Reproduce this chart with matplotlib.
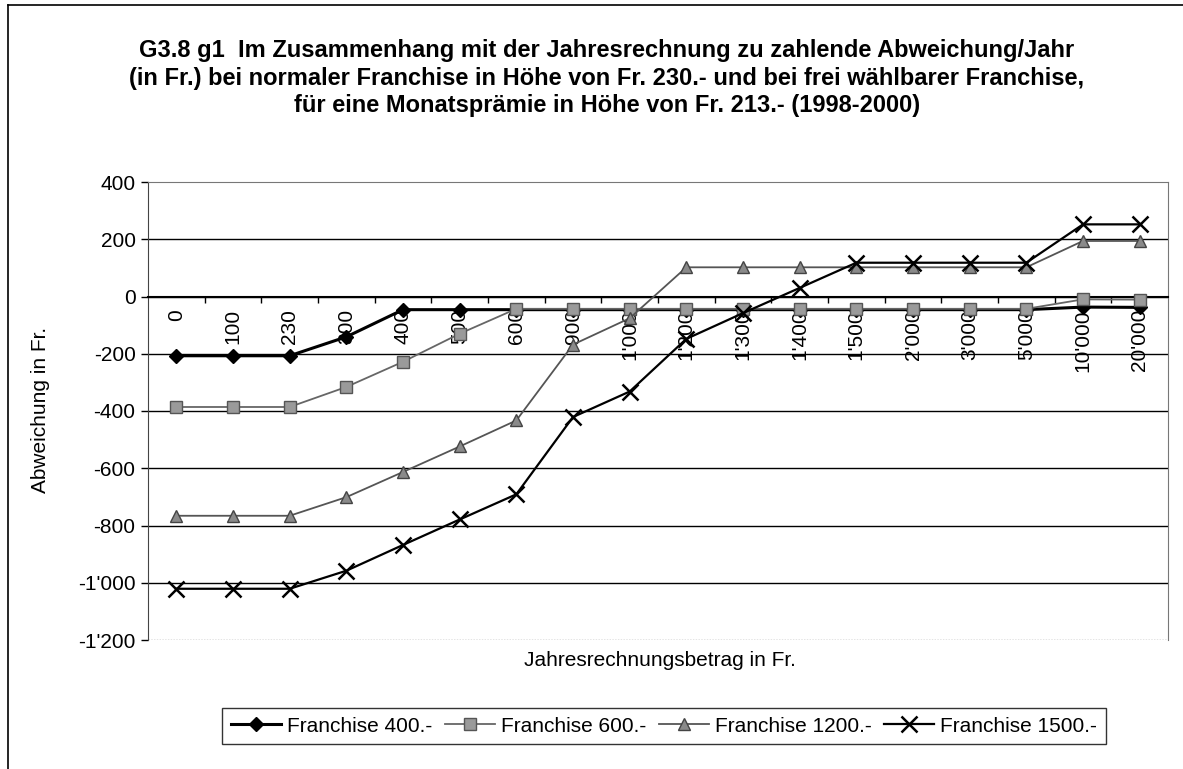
import matplotlib
matplotlib.use("Agg")
import matplotlib.pyplot as plt
from matplotlib.lines import Line2D
from matplotlib.ticker import FuncFormatter, MultipleLocator, FixedLocator

plt.rcParams["font.family"] = ["Liberation Sans", "DejaVu Sans"]

# -------------------
# Data
# -------------------
categories = ["0", "100", "230", "300", "400", "500", "600", "900", "1'000",
              "1'200", "1'300", "1'400", "1'500", "2'000", "3'000", "5'000",
              "10'000", "20'000"]

franchise_400 = [-207, -207, -207, -141, -46, -46, -46, -46, -46,
                 -46, -46, -46, -46, -46, -46, -46, -37, -38]
franchise_600 = [-386, -386, -386, -316, -228, -130, -43, -43, -43,
                 -43, -43, -43, -43, -43, -43, -43, -10, -11]
franchise_1200 = [-766, -766, -766, -701, -613, -524, -433, -168, -76,
                  102, 102, 102, 102, 102, 102, 102, 194, 194]
franchise_1500 = [-1021, -1021, -1021, -958, -868, -779, -691, -421, -332,
                  -148, -58, 30, 118, 118, 118, 118, 252, 252]

series_labels = ["Franchise 400.-", "Franchise 600.-",
                 "Franchise 1200.-", "Franchise 1500.-"]

title = ("G3.8 g1  Im Zusammenhang mit der Jahresrechnung zu zahlende Abweichung/Jahr\n"
         "(in Fr.) bei normaler Franchise in Höhe von Fr. 230.- und bei frei wählbarer Franchise,\n"
         "für eine Monatsprämie in Höhe von Fr. 213.- (1998-2000)")

W, H = 1183, 769
fig = plt.figure(figsize=(W / 100, H / 100), dpi=100)
ax = fig.add_axes([148 / W, 1 - 640 / H, (1168 - 148) / W, (640 - 182) / H])

x = list(range(len(categories)))

# grid lines
for v in range(-1000, 400, 200):
    ax.axhline(v, color="black", lw=1.0, zorder=1)
ax.axhline(-1200, color="#777777", lw=1.0, ls=(0, (1, 1)), zorder=1)

ax.plot(x, franchise_400, color="black", lw=2.2, marker="D", ms=7,
        mfc="black", mec="black", label=series_labels[0], zorder=3)
ax.plot(x, franchise_600, color="#666666", lw=1.3, marker="s", ms=8,
        mfc="#9a9a9a", mec="#555555", label=series_labels[1], zorder=4)
ax.plot(x, franchise_1200, color="#555555", lw=1.3, marker="^", ms=9,
        mfc="#8a8a8a", mec="#444444", label=series_labels[2], zorder=5)
ax.plot(x, franchise_1500, color="black", lw=1.6, marker="x", ms=12,
        mew=1.8, label=series_labels[3], zorder=6)

ax.set_xlim(-0.5, len(categories) - 0.5)
ax.set_ylim(-1200, 400)

# y axis
ax.yaxis.set_major_locator(MultipleLocator(200))
ax.yaxis.set_major_formatter(FuncFormatter(lambda v, p: f"{int(v):,}".replace(",", "'")))
ax.tick_params(axis="y", direction="out", length=5, width=1, labelsize=15, pad=4)

# x axis crossing at 0
ax.spines["bottom"].set_position(("data", 0))
ax.spines["bottom"].set_color("black")
ax.spines["bottom"].set_linewidth(1.5)
ax.xaxis.set_major_locator(FixedLocator(x))
ax.set_xticklabels(categories, rotation=90, va="top", fontsize=15)
ax.xaxis.set_minor_locator(FixedLocator([i + 0.5 for i in x[:-1]]))
ax.tick_params(axis="x", which="major", length=0, pad=9)
ax.tick_params(axis="x", which="minor", direction="out", length=4, width=1)

ax.spines["left"].set_color("#444444")
for s in ["top", "right"]:
    ax.spines[s].set_color("#777777")
    ax.spines[s].set_linestyle((0, (1, 1)))

fig.text(607 / W, 1 - 78 / H, title, ha="center", va="center",
         fontsize=17, fontweight="bold", linespacing=1.25,
         family=["Liberation Sans Narrow", "Liberation Sans", "DejaVu Sans"])
fig.text(40 / W, 1 - 410 / H, "Abweichung in Fr.", rotation=90,
         ha="center", va="center", fontsize=15)
fig.text(660 / W, 1 - 660 / H, "Jahresrechnungsbetrag in Fr.",
         ha="center", va="center", fontsize=15)

leg = fig.legend(loc="center", bbox_to_anchor=(664 / W, 1 - 726 / H), ncol=4,
                 fontsize=15, frameon=True, fancybox=False, handlelength=2.4,
                 handletextpad=0.3, columnspacing=0.6, borderpad=0.4)
leg.get_frame().set_edgecolor("black")
leg.get_frame().set_linewidth(1.0)

# outer frame (top and left edges visible in the scan)
fig.add_artist(Line2D([8 / W, 1], [1 - 5 / H, 1 - 5 / H], color="black", lw=1.2,
                      transform=fig.transFigure))
fig.add_artist(Line2D([8 / W, 8 / W], [0, 1 - 5 / H], color="black", lw=1.2,
                      transform=fig.transFigure))

fig.savefig("out.png", dpi=100)
